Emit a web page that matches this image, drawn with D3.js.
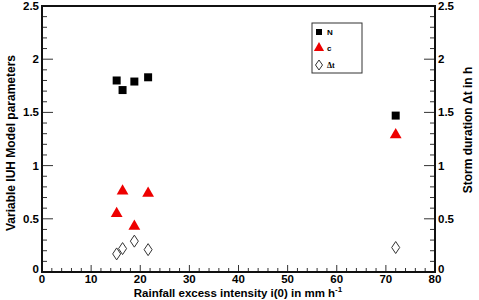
<!DOCTYPE html>
<html>
<head>
<meta charset="utf-8">
<script src="https://cdn.jsdelivr.net/npm/d3@7"></script>
<style>
body { margin: 0; background: #fff; }
text { font-family: "Liberation Sans", Arial, sans-serif; font-weight: bold; }
</style>
</head>
<body>
<div id="figure"></div>
<script>
// values
var intensity = [15.2, 16.4, 18.8, 21.6, 72.0];
var nValues = [1.80, 1.71, 1.79, 1.83, 1.47];
var cValues = [0.55, 0.76, 0.43, 0.74, 1.29];
var dtValues = [0.17, 0.22, 0.29, 0.21, 0.23];
var xTicks = [0, 10, 20, 30, 40, 50, 60, 70, 80];
var yTicks = [0, 0.5, 1, 1.5, 2, 2.5];
var yTickLabels = ["0", "0.5", "1", "1.5", "2", "2.5"];

var width = 479, height = 300;
var margin = { top: 6, right: 44, bottom: 28, left: 42 };

var svg = d3.select("#figure")
    .append("svg")
    .attr("width", width)
    .attr("height", height)

var x = d3.scaleLinear().domain([0, 80]).range([margin.left, width - margin.right]);
var y = d3.scaleLinear().domain([0, 2.5]).range([height - margin.bottom, margin.top]);
var yRight = d3.scaleLinear().domain([0, 2.5]).range([height - margin.bottom, margin.top]);

var x0 = x(0), x1 = x(80), y0 = y(0), y1 = y(2.5);

// minor ticks
var xMinor = d3.range(0, 81, 2);
var yMinor = d3.range(0, 2.51, 0.1);

svg.append("g").selectAll("line")
    .data(xMinor)
    .enter().append("line")
    .attr("x1", function (d) { return x(d) }).attr("x2", function (d) { return x(d) })
    .attr("y1", y0).attr("y2", function (d) { return d % 10 === 0 ? y0 - 7 : y0 - 4 })
    .attr("stroke", "#333").attr("stroke-width", 1)

svg.append("g").selectAll("line")
    .data(yMinor)
    .enter().append("line")
    .attr("x1", x0).attr("x2", function (d) { return Math.abs(d * 2 - Math.round(d * 2)) < 1e-6 ? x0 + 11 : x0 + 5 })
    .attr("y1", function (d) { return y(d) }).attr("y2", function (d) { return y(d) })
    .attr("stroke", "#333").attr("stroke-width", 1)

svg.append("g").selectAll("line")
    .data(yMinor)
    .enter().append("line")
    .attr("x1", x1).attr("x2", function (d) { return Math.abs(d * 2 - Math.round(d * 2)) < 1e-6 ? x1 - 11 : x1 - 5 })
    .attr("y1", function (d) { return yRight(d) }).attr("y2", function (d) { return yRight(d) })
    .attr("stroke", "#333").attr("stroke-width", 1)

// frame
svg.append("rect")
    .attr("x", x0).attr("y", y1)
    .attr("width", x1 - x0).attr("height", y0 - y1)
    .attr("fill", "none").attr("stroke", "#111").attr("stroke-width", 2)

// tick labels
svg.append("g").selectAll("text")
    .data(xTicks)
    .enter().append("text")
    .attr("x", function (d) { return x(d) })
    .attr("y", y0 + 11)
    .attr("text-anchor", "middle")
    .attr("font-size", 11.5)
    .text(function (d) { return d })

svg.append("g").selectAll("text")
    .data(yTicks)
    .enter().append("text")
    .attr("x", x0 - 3)
    .attr("y", function (d) { return y(d) + (d === 0 ? 1 : 4) })
    .attr("text-anchor", "end")
    .attr("font-size", 11.5)
    .text(function (d, i) { return yTickLabels[i] })

svg.append("g").selectAll("text")
    .data(yTicks)
    .enter().append("text")
    .attr("x", x1 + 3)
    .attr("y", function (d) { return yRight(d) + (d === 0 ? 1 : 4) })
    .attr("text-anchor", "start")
    .attr("font-size", 11.5)
    .text(function (d, i) { return yTickLabels[i] })

// axis titles
svg.append("text")
    .attr("x", 238)
    .attr("y", height - 3)
    .attr("text-anchor", "middle")
    .attr("font-size", 11.5)
    .text("Rainfall excess intensity i(0) in mm h")
    .append("tspan")
    .attr("dy", -5)
    .attr("font-size", 8)
    .text("-1")

svg.append("text")
    .attr("transform", "translate(15,143) rotate(-90)")
    .attr("text-anchor", "middle")
    .attr("font-size", 12)
    .text("Variable IUH Model parameters")

svg.append("text")
    .attr("transform", "translate(472,130) rotate(-90)")
    .attr("text-anchor", "middle")
    .attr("font-size", 12)
    .text("Storm duration \u0394t in h")

// markers
var squareSym = d3.symbol().type(d3.symbolSquare).size(64);
var triSym = d3.symbol().type(d3.symbolTriangle).size(60);
var diamondPath = "M0,-6L4,0L0,6L-4,0Z";

svg.append("g").selectAll("path")
    .data(intensity)
    .enter().append("path")
    .attr("d", squareSym)
    .attr("transform", function (d, i) { return "translate(" + x(d) + "," + y(nValues[i]) + ")" })
    .attr("fill", "#000")

svg.append("g").selectAll("path")
    .data(intensity)
    .enter().append("path")
    .attr("d", triSym)
    .attr("transform", function (d, i) { return "translate(" + x(d) + "," + y(cValues[i]) + ")" })
    .attr("fill", "#ee0000")

svg.append("g").selectAll("path")
    .data(intensity)
    .enter().append("path")
    .attr("d", diamondPath)
    .attr("transform", function (d, i) { return "translate(" + x(d) + "," + yRight(dtValues[i]) + ")" })
    .attr("fill", "#fff")
    .attr("stroke", "#333")
    .attr("stroke-width", 1)

// legend
var legend = svg.append("g").attr("transform", "translate(312,23)");
legend.append("rect")
    .attr("width", 50).attr("height", 50)
    .attr("fill", "#fff").attr("stroke", "#333").attr("stroke-width", 1)
legend.append("path").attr("d", d3.symbol().type(d3.symbolSquare).size(36))
    .attr("transform", "translate(7,9)").attr("fill", "#000")
legend.append("path").attr("d", d3.symbol().type(d3.symbolTriangle).size(45))
    .attr("transform", "translate(7,25)").attr("fill", "#ee0000")
legend.append("path").attr("d", "M0,-5L3.5,0L0,5L-3.5,0Z")
    .attr("transform", "translate(7,42)").attr("fill", "#fff").attr("stroke", "#333")
legend.append("text").attr("x", 15).attr("y", 12).attr("font-size", 8).text("N")
legend.append("text").attr("x", 15).attr("y", 28).attr("font-size", 8).text("c")
legend.append("text").attr("x", 15).attr("y", 45).attr("font-size", 8)
    .style("font-family", "'Liberation Serif', serif").text("\u0394t")
</script>
</body>
</html>
